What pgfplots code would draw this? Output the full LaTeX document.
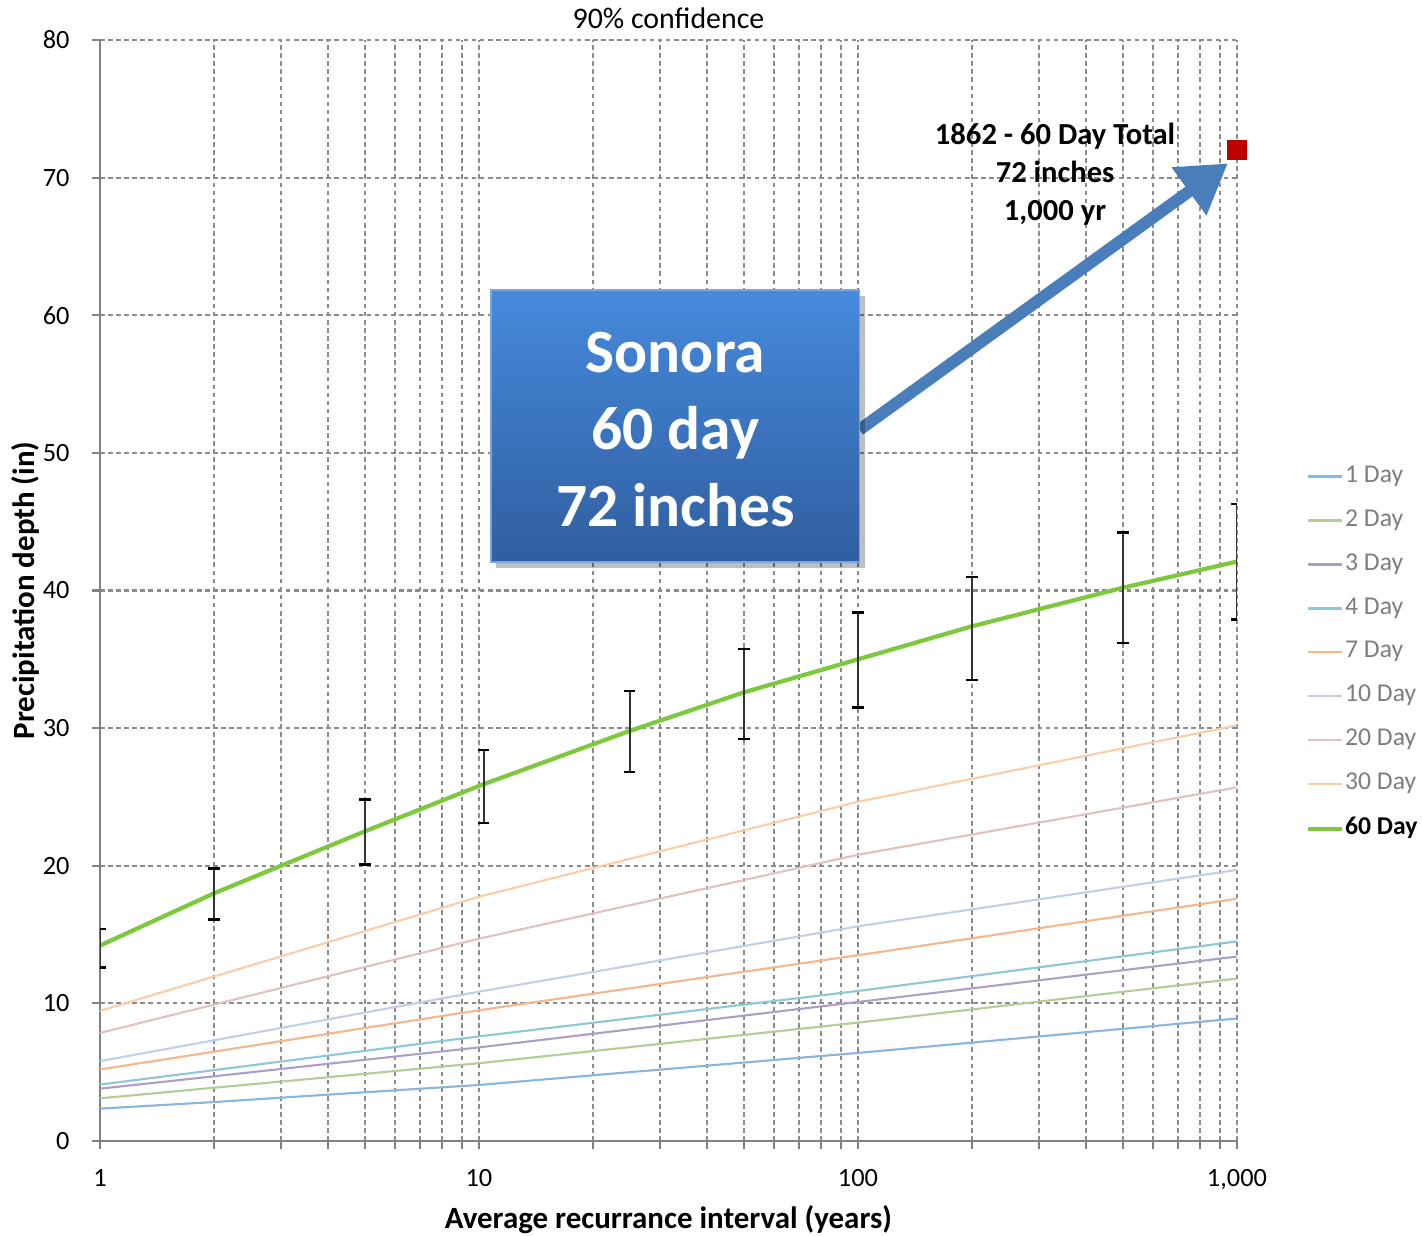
\documentclass[border=0pt]{standalone}
\usepackage{fontspec}
\setmainfont{Carlito}
\usepackage{pgfplots}
\pgfplotsset{compat=1.18}
\usetikzlibrary{arrows.meta}

\definecolor{cA}{RGB}{135,182,225}
\definecolor{cB}{RGB}{178,205,150}
\definecolor{cC}{RGB}{172,158,200}
\definecolor{cD}{RGB}{140,200,214}
\definecolor{cG}{RGB}{244,182,140}
\definecolor{cJ}{RGB}{192,206,232}
\definecolor{cT}{RGB}{228,192,192}
\definecolor{cH}{RGB}{250,205,168}
\definecolor{cS}{RGB}{125,200,60}
\definecolor{arrowblue}{RGB}{74,126,187}
\definecolor{boxtop}{RGB}{70,138,220}
\definecolor{boxbot}{RGB}{48,94,160}
\definecolor{boxedge}{RGB}{120,165,220}
\definecolor{redsq}{RGB}{192,0,0}
\definecolor{leggray}{RGB}{125,125,125}

\begin{document}
\begin{tikzpicture}
\begin{semilogxaxis}[
  scale only axis, width=113.7mm, height=110.1mm,
  xmin=1, xmax=1000, ymin=0, ymax=80,
  xtick={1,10,100,1000}, xticklabels={1,10,100,{1,000}},
  ytick={0,10,...,80},
  grid=both,
  axis x line*=bottom, axis y line*=left,
  axis line style={gray, line width=0.8pt, -},
  tick align=outside, major tick length=0.8mm, minor tick length=0.8mm,
  tick style={gray, line width=0.6pt},
  major grid style={gray!90, dash pattern=on 1.3pt off 1pt, line width=0.6pt},
  minor grid style={gray!90, dash pattern=on 1.3pt off 1pt, line width=0.6pt},
  tick label style={font=\fontsize{7.5}{9}\selectfont},
  xticklabel style={yshift=-0.8mm},
  yticklabel style={xshift=-1mm},
  /pgf/number format/assume math mode=true,
  xlabel={Average recurrance interval (years)},
  ylabel={Precipitation depth (in)},
  label style={font=\bfseries\fontsize{8.8}{10}\selectfont},
  xlabel style={at={(axis description cs:0.5,-0.0718)}, anchor=center},
  ylabel style={at={(axis description cs:-0.066,0.5)}, anchor=center},
  title={90\% confidence},
  title style={at={(axis description cs:0.5,1.02)}, anchor=center, yshift=-6pt, font=\fontsize{8.5}{10}\selectfont},
  legend style={at={(axis description cs:1.06,0.615)}, anchor=north west, draw=none, fill=none,
    font=\fontsize{7.3}{9}\selectfont, row sep=2.0mm, inner sep=0pt, nodes={inner sep=0.3pt}, cells={anchor=west}},
  legend image code/.code={\draw[#1] (0mm,0mm) -- (3.4mm,0mm);},
]
\addplot[cA, line width=0.6pt] coordinates {(1,2.35) (2,2.83) (5,3.54) (10,4.07) (25,5.0) (50,5.70) (100,6.4) (200,7.15) (500,8.15) (1000,8.9)};
\addlegendentry{\textcolor{leggray}{1 Day}}
\addplot[cB, line width=0.6pt] coordinates {(1,3.1) (2,3.87) (5,4.88) (10,5.65) (25,6.82) (50,7.71) (100,8.6) (200,9.56) (500,10.84) (1000,11.8)};
\addlegendentry{\textcolor{leggray}{2 Day}}
\addplot[cC, line width=0.6pt] coordinates {(1,3.8) (2,4.70) (5,5.90) (10,6.8) (25,8.11) (50,9.11) (100,10.1) (200,11.09) (500,12.41) (1000,13.4)};
\addlegendentry{\textcolor{leggray}{3 Day}}
\addplot[cD, line width=0.6pt] coordinates {(1,4.1) (2,5.15) (5,6.55) (10,7.6) (25,8.91) (50,9.91) (100,10.9) (200,11.98) (500,13.42) (1000,14.5)};
\addlegendentry{\textcolor{leggray}{4 Day}}
\addplot[cG, line width=0.6pt] coordinates {(1,5.2) (2,6.49) (5,8.21) (10,9.5) (25,11.09) (50,12.3) (100,13.5) (200,14.73) (500,16.37) (1000,17.6)};
\addlegendentry{\textcolor{leggray}{7 Day}}
\addplot[cJ, line width=0.6pt] coordinates {(1,5.8) (2,7.32) (5,9.33) (10,10.85) (25,12.74) (50,14.17) (100,15.6) (200,16.83) (500,18.47) (1000,19.7)};
\addlegendentry{\textcolor{leggray}{10 Day}}
\addplot[cT, line width=0.6pt] coordinates {(1,7.85) (2,9.91) (5,12.64) (10,14.7) (25,17.13) (50,18.96) (100,20.8) (200,22.27) (500,24.22) (1000,25.7)};
\addlegendentry{\textcolor{leggray}{20 Day}}
\addplot[cH, line width=0.6pt] coordinates {(1,9.45) (2,11.95) (5,15.25) (10,17.75) (25,20.5) (50,22.57) (100,24.65) (200,26.32) (500,28.53) (1000,30.2)};
\addlegendentry{\textcolor{leggray}{30 Day}}
\addplot[cS, line width=1.2pt] coordinates {(1,14.2) (2,18.0) (5,22.5) (10,25.8) (25,29.8) (50,32.6) (100,35.0) (200,37.4) (500,40.2) (1000,42.1)};
\addlegendentry{\textbf{60 Day}}
\addplot[mark=none, draw=none, forget plot,
  error bars/.cd, y dir=both, y explicit,
  error bar style={draw=black!80, line width=0.7pt, solid},
  error mark options={rotate=90, mark size=1.6pt, line width=0.7pt, draw=black}]
  coordinates {
  (1,14.2) += (0,1.2) -= (0,1.6)
  (2,18.0) += (0,1.8) -= (0,1.9)
  (5,22.5) += (0,2.3) -= (0,2.4)
  (10.3,25.8) += (0,2.6) -= (0,2.7)
  (25,29.8) += (0,2.9) -= (0,3.0)
  (50,32.6) += (0,3.15) -= (0,3.4)
  (100,35.0) += (0,3.4) -= (0,3.5)
  (200,37.4) += (0,3.6) -= (0,3.9)
  (500,40.2) += (0,4.0) -= (0,4.0)
  (1000,42.1) += (0,4.2) -= (0,4.2)
  };
\addplot[only marks, mark=square*, mark size=2.6pt, redsq, forget plot] coordinates {(1000,72)};
% annotations
\draw[line width=3.4pt, arrowblue, -{Triangle[length=4.8mm,width=5.6mm]}]
  (rel axis cs:0.668,0.646) -- (rel axis cs:0.992,0.888);
\fill[black, opacity=0.25] ([xshift=0.5mm,yshift=-0.6mm]rel axis cs:0.344,0.526) rectangle ([xshift=0.5mm,yshift=-0.6mm]rel axis cs:0.668,0.773);
\shade[top color=boxtop, bottom color=boxbot, draw=boxedge, line width=0.5pt]
  (rel axis cs:0.344,0.526) rectangle (rel axis cs:0.668,0.773);
\node[white, font=\bfseries\fontsize{17.5}{21.9}\selectfont, align=center] at (rel axis cs:0.506,0.646) {Sonora\\60 day\\72 inches};
\node[font=\bfseries\fontsize{8.7}{10.8}\selectfont, align=center] at (rel axis cs:0.84,0.878) {1862 - 60 Day Total\\72 inches\\1,000 yr};
\end{semilogxaxis}
\pgfresetboundingbox
\path[use as bounding box] (-10mm,-9.5mm) rectangle (132.2mm,114.1mm);
\end{tikzpicture}
\end{document}
